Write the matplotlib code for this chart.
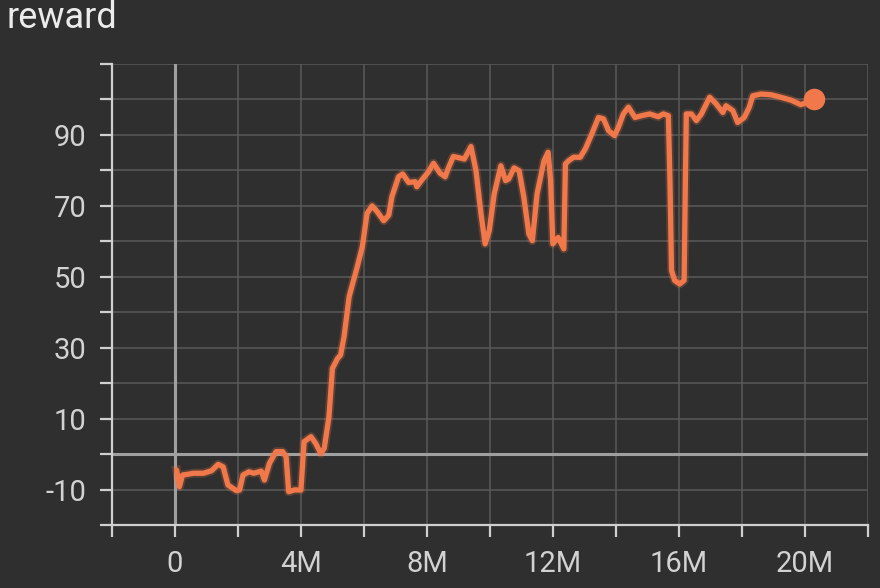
#!/usr/bin/env python3
"""reward curve, TensorBoard dark style"""
import matplotlib
matplotlib.use("Agg")
import matplotlib.pyplot as plt
from matplotlib.ticker import MultipleLocator, FuncFormatter

matplotlib.rcParams["font.family"] = ["Roboto", "DejaVu Sans"]

# ============ data (steps in millions) ============
steps_m = [0.05, 0.14, 0.24, 0.4, 0.58, 0.9, 1.16, 1.37, 1.53, 1.68, 1.95, 2.05,
           2.16, 2.35, 2.5, 2.74, 2.84, 3.0, 3.21, 3.42, 3.53, 3.61, 3.79, 4.0,
           4.1, 4.32, 4.47, 4.63, 4.74, 4.89, 5.0, 5.16, 5.26, 5.37, 5.53, 5.63,
           5.79, 5.95, 6.1, 6.26, 6.42, 6.63, 6.79, 6.89, 7.1, 7.23, 7.42, 7.63,
           7.68, 7.84, 8.05, 8.21, 8.42, 8.58, 8.68, 8.84, 9.1, 9.19, 9.4, 9.56,
           9.72, 9.85, 9.98, 10.14, 10.35, 10.5, 10.6, 10.77, 10.93, 11.08, 11.24, 11.35,
           11.5, 11.72, 11.85, 11.93, 12.0, 12.17, 12.35, 12.4, 12.5, 12.66, 12.87, 13.03,
           13.24, 13.45, 13.61, 13.77, 13.96, 14.08, 14.24, 14.4, 14.61, 14.82, 15.08, 15.35,
           15.51, 15.67, 15.72, 15.77, 15.87, 16.03, 16.17, 16.21, 16.24, 16.4, 16.56, 16.72,
           16.98, 17.19, 17.4, 17.5, 17.72, 17.87, 18.08, 18.24, 18.35, 18.61, 18.93, 19.24,
           19.56, 19.88, 20.08, 20.29]
rewards = [-4.5, -9.2, -5.9, -5.7, -5.4, -5.4, -4.7, -2.9, -3.6, -8.7, -10.3, -10.1,
           -5.9, -5.0, -5.4, -4.8, -7.3, -2.6, 0.7, 0.7, -0.8, -10.6, -10.1, -10.1,
           3.5, 4.9, 3.0, 0.2, 1.6, 10.5, 24.1, 26.9, 27.9, 33.1, 44.3, 47.6,
           52.8, 58.4, 67.8, 69.9, 68.3, 65.7, 67.3, 72.5, 78.1, 78.9, 76.5, 76.7,
           75.3, 77.2, 79.5, 81.9, 79.1, 78.1, 80.5, 83.8, 83.3, 83.1, 86.6, 79.8,
           67.6, 59.2, 62.9, 73.3, 81.2, 77.0, 77.5, 80.6, 79.8, 72.3, 62.0, 60.1,
           73.3, 82.6, 85.0, 77.0, 59.2, 61.0, 57.8, 81.7, 82.6, 83.6, 83.6, 85.9,
           90.2, 94.8, 94.4, 91.1, 89.7, 92.0, 95.8, 97.7, 94.8, 95.3, 95.8, 95.0,
           95.8, 95.3, 77.0, 51.7, 48.9, 47.9, 48.9, 77.0, 95.8, 95.8, 93.9, 95.8,
           100.5, 98.6, 96.2, 98.1, 96.7, 93.4, 94.8, 97.7, 100.9, 101.4, 101.2, 100.5,
           99.7, 98.4, 99.1, 100.0]

BG = "#2f2f2f"
ORANGE = "#f0784a"
AXIS_C = "#cfcfcf"
GRID_C = "#5a5a5a"
ZERO_C = "#a0a0a0"

fig = plt.figure(figsize=(8.8, 5.88), dpi=100, facecolor=BG)
ax = fig.add_axes([0.1273, 0.107, 0.8587, 0.785], facecolor=BG)

# faint halo + smoothed line
ax.plot(steps_m, rewards, color=ORANGE, linewidth=6.5, alpha=0.22, zorder=3,
        solid_joinstyle="round")
ax.plot(steps_m, rewards, color=ORANGE, linewidth=3.8, zorder=4,
        solid_joinstyle="round", solid_capstyle="round")
ax.plot(steps_m[-1], rewards[-1], "o", color=ORANGE, markersize=14.5, zorder=5)

ax.set_xlim(-2, 22)
ax.set_ylim(-20, 110)

ax.xaxis.set_major_locator(MultipleLocator(2))
ax.yaxis.set_major_locator(MultipleLocator(10))


def fmt_x(v, pos):
    iv = int(round(v))
    if iv % 4 != 0 or iv < 0 or iv > 20:
        return ""
    return "0" if iv == 0 else f"{iv}M"


def fmt_y(v, pos):
    iv = int(round(v))
    if iv % 20 == 0 or iv > 90:
        return ""
    return str(iv)


ax.xaxis.set_major_formatter(FuncFormatter(fmt_x))
ax.yaxis.set_major_formatter(FuncFormatter(fmt_y))

ax.grid(True, color=GRID_C, linewidth=1.1, zorder=1)
ax.axhline(0, color=ZERO_C, linewidth=2.2, zorder=2)
ax.axvline(0, color=ZERO_C, linewidth=2.2, zorder=2)

for side in ["top", "right"]:
    ax.spines[side].set_visible(False)
for side in ["left", "bottom"]:
    ax.spines[side].set_color(AXIS_C)
    ax.spines[side].set_linewidth(1.6)

ax.tick_params(axis="both", colors=AXIS_C, length=8.6, width=1.6,
               labelsize=21, labelcolor="#d2d2d2")
ax.tick_params(axis="x", pad=9)
ax.tick_params(axis="y", pad=10)

fig.text(0.007, 1 - 28 / 588, "reward", fontsize=26, color="#ececec",
         va="baseline", ha="left")

plt.savefig("out.png", dpi=100, facecolor=BG)
